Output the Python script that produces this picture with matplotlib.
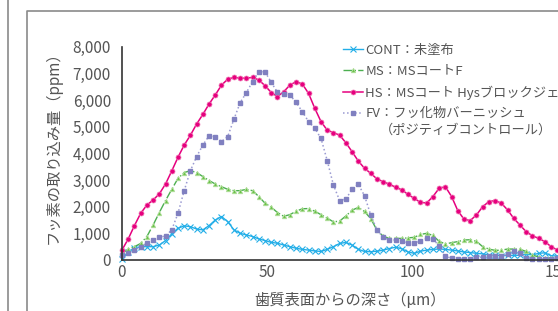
import numpy as np
import matplotlib
matplotlib.use('Agg')
import matplotlib.pyplot as plt
from matplotlib.lines import Line2D

plt.rcParams['font.family'] = ['Noto Sans CJK JP', 'DejaVu Sans']

# depth from tooth surface (um), 71 samples from 0 to 150
depth = np.linspace(0, 150, 71)

cont = [30, 310, 440, 500, 500, 500, 560, 730, 980, 1190,
        1280, 1250, 1160, 1130, 1290, 1500, 1630, 1440, 1130, 1000,
        940, 880, 790, 730, 660, 630, 560, 500, 440, 400,
        370, 340, 320, 400, 500, 620, 660, 560, 400, 320,
        310, 330, 370, 430, 480, 420, 300, 250, 330, 370,
        400, 410, 400, 370, 340, 300, 280, 250, 230, 190,
        180, 160, 170, 170, 180, 220, 190, 250, 270, 160, 150]

ms = [250, 400, 500, 620, 880, 1310, 1780, 2230, 2650, 3060,
      3280, 3350, 3280, 3130, 2980, 2850, 2750, 2650, 2600, 2600,
      2650, 2600, 2380, 2130, 1980, 1780, 1640, 1700, 1830, 1920,
      1930, 1830, 1700, 1570, 1430, 1460, 1650, 1870, 1970, 1820,
      1550, 1120, 890, 810, 810, 810, 830, 850, 960, 1000,
      920, 700, 600, 650, 690, 750, 760, 700, 500, 410,
      360, 370, 410, 410, 400, 320, 190, 110, 80, 70, 60]

hs = [375, 790, 1290, 1750, 2060, 2250, 2480, 2850, 3340, 3850,
      4310, 4680, 5100, 5460, 5850, 6190, 6560, 6780, 6850, 6820,
      6820, 6850, 6750, 6540, 6280, 6130, 6310, 6560, 6690, 6600,
      6250, 5690, 5190, 4870, 4780, 4680, 4400, 4060, 3710, 3440,
      3250, 3040, 2940, 2840, 2730, 2630, 2460, 2310, 2160, 2140,
      2380, 2690, 2750, 2380, 1850, 1530, 1480, 1690, 2000, 2190,
      2230, 2130, 1880, 1560, 1310, 1060, 910, 810, 690, 500, 380]

fv = [190, 250, 380, 500, 630, 750, 850, 900, 1130, 1750,
      2600, 3350, 3880, 4310, 4660, 4630, 4440, 4630, 5280, 5900,
      6280, 6690, 7060, 7060, 6660, 6290, 6230, 6190, 5910, 5560,
      5190, 4940, 4560, 3730, 2810, 2230, 2290, 2650, 2840, 2410,
      1690, 1130, 850, 750, 750, 710, 650, 630, 710, 810,
      770, 540, 150, 60, 50, 50, 50, 100, 100, 150,
      150, 150, 230, 340, 250, 60, 40, 40, 40, 40, 60]

labels = ['CONT：未塗布', 'MS：MSコートF', 'HS：MSコート Hysブロックジェル',
          'FV：フッ化物バーニッシュ']
fv_note = '（ポジティブコントロール）'

W, H = 558, 311
fig = plt.figure(figsize=(W / 100, H / 100), dpi=100)

# outer frame lines
fig.add_artist(Line2D([7.5 / W, 7.5 / W], [0, 1], transform=fig.transFigure,
                      color='#8a8a8a', lw=1.2))
fig.add_artist(Line2D([26.5 / W, 26.5 / W, 1], [0, 1 - 10.5 / H, 1 - 10.5 / H],
                      transform=fig.transFigure, color='#8a8a8a', lw=1.2))

px_per_um = 435.3 / 150
ax = fig.add_axes([122 / W, 51 / H, 160 * px_per_um / W, 213.3 / H])

ax.plot(depth, cont, '-', color='#22aee8', lw=1, marker='x', ms=4, mew=0.8,
        label=labels[0], clip_on=False)
ax.plot(depth, ms, '-.', color='#4caf50', lw=1, marker='^', ms=3.2,
        mfc='#6cc24a', mec='#b5e0a0', mew=0.6, label=labels[1], clip_on=False)
ax.plot(depth, hs, '-', color='#e6007e', lw=1.1, marker='o', ms=3.6,
        mec='#f07ab5', mew=0.5, label=labels[2], clip_on=False)
ax.plot(depth, fv, ':', color='#9a9ad2', lw=1.1, marker='s', ms=3.4,
        mfc='#8080c0', mec='#8080c0', label=labels[3], clip_on=False)

ax.set_xlim(0, 160)
ax.set_ylim(0, 8000)
ax.set_xticks([0, 50, 100, 150])
ax.set_yticks(range(0, 8001, 1000))
ax.set_yticklabels([f'{v:,}' for v in range(0, 8001, 1000)])
ax.tick_params(length=0, labelsize=11, labelcolor='#555555')
ax.tick_params(axis='y', pad=8)
ax.tick_params(axis='x', pad=3)
for s in ['top', 'right']:
    ax.spines[s].set_visible(False)
for s in ['left', 'bottom']:
    ax.spines[s].set_color('#333333')
    ax.spines[s].set_linewidth(1.2)

leg = ax.legend(loc='upper left', bbox_to_anchor=(343 / W, 1 - 44 / H),
                bbox_transform=fig.transFigure, frameon=False, borderpad=0,
                borderaxespad=0, handlelength=1.5, handletextpad=0.2,
                labelspacing=0.58, fontsize=9.5)
for t in leg.get_texts():
    t.set_color('#555555')

# second line of the FV legend entry, placed under its first line
fig.canvas.draw()
bb = leg.get_texts()[3].get_window_extent()
fig.text((bb.x0 + 14) / W, (bb.y0 - 3) / H, fv_note, ha='left', va='top',
         fontsize=9.5, color='#555555')

fig.text(53 / W, 1 - 143.5 / H, 'フッ素の取り込み量（ppm）', rotation=90,
         ha='center', va='center', fontsize=11, color='#555555')
fig.text(350 / W, 1 - 300 / H, '歯質表面からの深さ（μm）',
         ha='center', va='center', fontsize=11, color='#555555')

fig.savefig('out.png', dpi=100)
